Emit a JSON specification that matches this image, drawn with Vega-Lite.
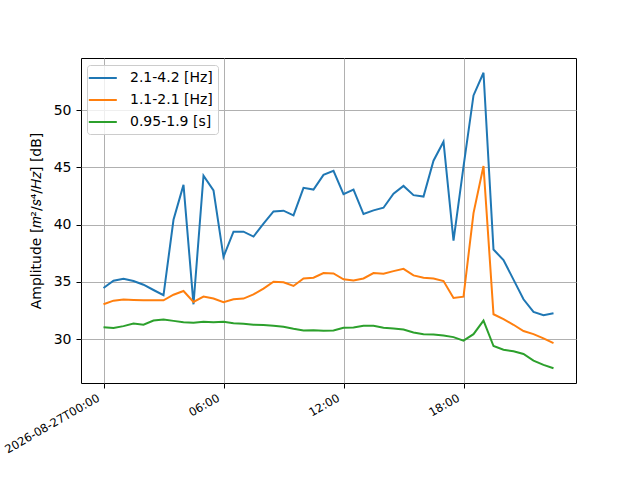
{
  "$schema": "https://vega.github.io/schema/vega-lite/v6.json",
  "autosize": {"type": "none"},
  "padding": {"left": 81, "top": 58, "right": 64, "bottom": 97},
  "width": 495,
  "height": 325,
  "background": "white",
  "data": {
    "values": [
      {"time": "2026-08-27T00:00", "band": "2.1-4.2 [Hz]", "db": 34.46},
      {"time": "2026-08-27T00:30", "band": "2.1-4.2 [Hz]", "db": 35.1},
      {"time": "2026-08-27T01:00", "band": "2.1-4.2 [Hz]", "db": 35.28},
      {"time": "2026-08-27T01:30", "band": "2.1-4.2 [Hz]", "db": 35.07},
      {"time": "2026-08-27T02:00", "band": "2.1-4.2 [Hz]", "db": 34.75},
      {"time": "2026-08-27T02:30", "band": "2.1-4.2 [Hz]", "db": 34.29},
      {"time": "2026-08-27T03:00", "band": "2.1-4.2 [Hz]", "db": 33.83},
      {"time": "2026-08-27T03:30", "band": "2.1-4.2 [Hz]", "db": 40.43},
      {"time": "2026-08-27T04:00", "band": "2.1-4.2 [Hz]", "db": 43.48},
      {"time": "2026-08-27T04:30", "band": "2.1-4.2 [Hz]", "db": 33.04},
      {"time": "2026-08-27T05:00", "band": "2.1-4.2 [Hz]", "db": 44.29},
      {"time": "2026-08-27T05:30", "band": "2.1-4.2 [Hz]", "db": 42.99},
      {"time": "2026-08-27T06:00", "band": "2.1-4.2 [Hz]", "db": 37.19},
      {"time": "2026-08-27T06:30", "band": "2.1-4.2 [Hz]", "db": 39.39},
      {"time": "2026-08-27T07:00", "band": "2.1-4.2 [Hz]", "db": 39.39},
      {"time": "2026-08-27T07:30", "band": "2.1-4.2 [Hz]", "db": 38.96},
      {"time": "2026-08-27T08:00", "band": "2.1-4.2 [Hz]", "db": 40.09},
      {"time": "2026-08-27T08:30", "band": "2.1-4.2 [Hz]", "db": 41.16},
      {"time": "2026-08-27T09:00", "band": "2.1-4.2 [Hz]", "db": 41.22},
      {"time": "2026-08-27T09:30", "band": "2.1-4.2 [Hz]", "db": 40.81},
      {"time": "2026-08-27T10:00", "band": "2.1-4.2 [Hz]", "db": 43.22},
      {"time": "2026-08-27T10:30", "band": "2.1-4.2 [Hz]", "db": 43.07},
      {"time": "2026-08-27T11:00", "band": "2.1-4.2 [Hz]", "db": 44.35},
      {"time": "2026-08-27T11:30", "band": "2.1-4.2 [Hz]", "db": 44.7},
      {"time": "2026-08-27T12:00", "band": "2.1-4.2 [Hz]", "db": 42.67},
      {"time": "2026-08-27T12:30", "band": "2.1-4.2 [Hz]", "db": 43.07},
      {"time": "2026-08-27T13:00", "band": "2.1-4.2 [Hz]", "db": 40.93},
      {"time": "2026-08-27T13:30", "band": "2.1-4.2 [Hz]", "db": 41.25},
      {"time": "2026-08-27T14:00", "band": "2.1-4.2 [Hz]", "db": 41.48},
      {"time": "2026-08-27T14:30", "band": "2.1-4.2 [Hz]", "db": 42.7},
      {"time": "2026-08-27T15:00", "band": "2.1-4.2 [Hz]", "db": 43.39},
      {"time": "2026-08-27T15:30", "band": "2.1-4.2 [Hz]", "db": 42.58},
      {"time": "2026-08-27T16:00", "band": "2.1-4.2 [Hz]", "db": 42.46},
      {"time": "2026-08-27T16:30", "band": "2.1-4.2 [Hz]", "db": 45.59},
      {"time": "2026-08-27T17:00", "band": "2.1-4.2 [Hz]", "db": 47.25},
      {"time": "2026-08-27T17:30", "band": "2.1-4.2 [Hz]", "db": 38.61},
      {"time": "2026-08-27T18:00", "band": "2.1-4.2 [Hz]", "db": 45.07},
      {"time": "2026-08-27T18:30", "band": "2.1-4.2 [Hz]", "db": 51.3},
      {"time": "2026-08-27T19:00", "band": "2.1-4.2 [Hz]", "db": 53.28},
      {"time": "2026-08-27T19:30", "band": "2.1-4.2 [Hz]", "db": 37.83},
      {"time": "2026-08-27T20:00", "band": "2.1-4.2 [Hz]", "db": 36.9},
      {"time": "2026-08-27T20:30", "band": "2.1-4.2 [Hz]", "db": 35.2},
      {"time": "2026-08-27T21:00", "band": "2.1-4.2 [Hz]", "db": 33.48},
      {"time": "2026-08-27T21:30", "band": "2.1-4.2 [Hz]", "db": 32.38},
      {"time": "2026-08-27T22:00", "band": "2.1-4.2 [Hz]", "db": 32.09},
      {"time": "2026-08-27T22:30", "band": "2.1-4.2 [Hz]", "db": 32.26},
      {"time": "2026-08-27T00:00", "band": "1.1-2.1 [Hz]", "db": 33.04},
      {"time": "2026-08-27T00:30", "band": "1.1-2.1 [Hz]", "db": 33.36},
      {"time": "2026-08-27T01:00", "band": "1.1-2.1 [Hz]", "db": 33.45},
      {"time": "2026-08-27T01:30", "band": "1.1-2.1 [Hz]", "db": 33.42},
      {"time": "2026-08-27T02:00", "band": "1.1-2.1 [Hz]", "db": 33.39},
      {"time": "2026-08-27T02:30", "band": "1.1-2.1 [Hz]", "db": 33.39},
      {"time": "2026-08-27T03:00", "band": "1.1-2.1 [Hz]", "db": 33.39},
      {"time": "2026-08-27T03:30", "band": "1.1-2.1 [Hz]", "db": 33.88},
      {"time": "2026-08-27T04:00", "band": "1.1-2.1 [Hz]", "db": 34.2},
      {"time": "2026-08-27T04:30", "band": "1.1-2.1 [Hz]", "db": 33.25},
      {"time": "2026-08-27T05:00", "band": "1.1-2.1 [Hz]", "db": 33.71},
      {"time": "2026-08-27T05:30", "band": "1.1-2.1 [Hz]", "db": 33.54},
      {"time": "2026-08-27T06:00", "band": "1.1-2.1 [Hz]", "db": 33.22},
      {"time": "2026-08-27T06:30", "band": "1.1-2.1 [Hz]", "db": 33.48},
      {"time": "2026-08-27T07:00", "band": "1.1-2.1 [Hz]", "db": 33.54},
      {"time": "2026-08-27T07:30", "band": "1.1-2.1 [Hz]", "db": 33.91},
      {"time": "2026-08-27T08:00", "band": "1.1-2.1 [Hz]", "db": 34.41},
      {"time": "2026-08-27T08:30", "band": "1.1-2.1 [Hz]", "db": 35.01},
      {"time": "2026-08-27T09:00", "band": "1.1-2.1 [Hz]", "db": 34.96},
      {"time": "2026-08-27T09:30", "band": "1.1-2.1 [Hz]", "db": 34.64},
      {"time": "2026-08-27T10:00", "band": "1.1-2.1 [Hz]", "db": 35.3},
      {"time": "2026-08-27T10:30", "band": "1.1-2.1 [Hz]", "db": 35.36},
      {"time": "2026-08-27T11:00", "band": "1.1-2.1 [Hz]", "db": 35.77},
      {"time": "2026-08-27T11:30", "band": "1.1-2.1 [Hz]", "db": 35.74},
      {"time": "2026-08-27T12:00", "band": "1.1-2.1 [Hz]", "db": 35.22},
      {"time": "2026-08-27T12:30", "band": "1.1-2.1 [Hz]", "db": 35.13},
      {"time": "2026-08-27T13:00", "band": "1.1-2.1 [Hz]", "db": 35.3},
      {"time": "2026-08-27T13:30", "band": "1.1-2.1 [Hz]", "db": 35.77},
      {"time": "2026-08-27T14:00", "band": "1.1-2.1 [Hz]", "db": 35.71},
      {"time": "2026-08-27T14:30", "band": "1.1-2.1 [Hz]", "db": 35.94},
      {"time": "2026-08-27T15:00", "band": "1.1-2.1 [Hz]", "db": 36.14},
      {"time": "2026-08-27T15:30", "band": "1.1-2.1 [Hz]", "db": 35.57},
      {"time": "2026-08-27T16:00", "band": "1.1-2.1 [Hz]", "db": 35.36},
      {"time": "2026-08-27T16:30", "band": "1.1-2.1 [Hz]", "db": 35.3},
      {"time": "2026-08-27T17:00", "band": "1.1-2.1 [Hz]", "db": 35.07},
      {"time": "2026-08-27T17:30", "band": "1.1-2.1 [Hz]", "db": 33.59},
      {"time": "2026-08-27T18:00", "band": "1.1-2.1 [Hz]", "db": 33.71},
      {"time": "2026-08-27T18:30", "band": "1.1-2.1 [Hz]", "db": 41.01},
      {"time": "2026-08-27T19:00", "band": "1.1-2.1 [Hz]", "db": 45.13},
      {"time": "2026-08-27T19:30", "band": "1.1-2.1 [Hz]", "db": 32.17},
      {"time": "2026-08-27T20:00", "band": "1.1-2.1 [Hz]", "db": 31.74},
      {"time": "2026-08-27T20:30", "band": "1.1-2.1 [Hz]", "db": 31.25},
      {"time": "2026-08-27T21:00", "band": "1.1-2.1 [Hz]", "db": 30.7},
      {"time": "2026-08-27T21:30", "band": "1.1-2.1 [Hz]", "db": 30.43},
      {"time": "2026-08-27T22:00", "band": "1.1-2.1 [Hz]", "db": 30.06},
      {"time": "2026-08-27T22:30", "band": "1.1-2.1 [Hz]", "db": 29.65},
      {"time": "2026-08-27T00:00", "band": "0.95-1.9 [s]", "db": 31.04},
      {"time": "2026-08-27T00:30", "band": "0.95-1.9 [s]", "db": 30.96},
      {"time": "2026-08-27T01:00", "band": "0.95-1.9 [s]", "db": 31.13},
      {"time": "2026-08-27T01:30", "band": "0.95-1.9 [s]", "db": 31.36},
      {"time": "2026-08-27T02:00", "band": "0.95-1.9 [s]", "db": 31.25},
      {"time": "2026-08-27T02:30", "band": "0.95-1.9 [s]", "db": 31.62},
      {"time": "2026-08-27T03:00", "band": "0.95-1.9 [s]", "db": 31.71},
      {"time": "2026-08-27T03:30", "band": "0.95-1.9 [s]", "db": 31.59},
      {"time": "2026-08-27T04:00", "band": "0.95-1.9 [s]", "db": 31.48},
      {"time": "2026-08-27T04:30", "band": "0.95-1.9 [s]", "db": 31.42},
      {"time": "2026-08-27T05:00", "band": "0.95-1.9 [s]", "db": 31.51},
      {"time": "2026-08-27T05:30", "band": "0.95-1.9 [s]", "db": 31.48},
      {"time": "2026-08-27T06:00", "band": "0.95-1.9 [s]", "db": 31.51},
      {"time": "2026-08-27T06:30", "band": "0.95-1.9 [s]", "db": 31.39},
      {"time": "2026-08-27T07:00", "band": "0.95-1.9 [s]", "db": 31.33},
      {"time": "2026-08-27T07:30", "band": "0.95-1.9 [s]", "db": 31.25},
      {"time": "2026-08-27T08:00", "band": "0.95-1.9 [s]", "db": 31.22},
      {"time": "2026-08-27T08:30", "band": "0.95-1.9 [s]", "db": 31.16},
      {"time": "2026-08-27T09:00", "band": "0.95-1.9 [s]", "db": 31.07},
      {"time": "2026-08-27T09:30", "band": "0.95-1.9 [s]", "db": 30.9},
      {"time": "2026-08-27T10:00", "band": "0.95-1.9 [s]", "db": 30.75},
      {"time": "2026-08-27T10:30", "band": "0.95-1.9 [s]", "db": 30.78},
      {"time": "2026-08-27T11:00", "band": "0.95-1.9 [s]", "db": 30.72},
      {"time": "2026-08-27T11:30", "band": "0.95-1.9 [s]", "db": 30.75},
      {"time": "2026-08-27T12:00", "band": "0.95-1.9 [s]", "db": 30.99},
      {"time": "2026-08-27T12:30", "band": "0.95-1.9 [s]", "db": 31.01},
      {"time": "2026-08-27T13:00", "band": "0.95-1.9 [s]", "db": 31.16},
      {"time": "2026-08-27T13:30", "band": "0.95-1.9 [s]", "db": 31.16},
      {"time": "2026-08-27T14:00", "band": "0.95-1.9 [s]", "db": 30.99},
      {"time": "2026-08-27T14:30", "band": "0.95-1.9 [s]", "db": 30.93},
      {"time": "2026-08-27T15:00", "band": "0.95-1.9 [s]", "db": 30.84},
      {"time": "2026-08-27T15:30", "band": "0.95-1.9 [s]", "db": 30.58},
      {"time": "2026-08-27T16:00", "band": "0.95-1.9 [s]", "db": 30.43},
      {"time": "2026-08-27T16:30", "band": "0.95-1.9 [s]", "db": 30.41},
      {"time": "2026-08-27T17:00", "band": "0.95-1.9 [s]", "db": 30.32},
      {"time": "2026-08-27T17:30", "band": "0.95-1.9 [s]", "db": 30.17},
      {"time": "2026-08-27T18:00", "band": "0.95-1.9 [s]", "db": 29.86},
      {"time": "2026-08-27T18:30", "band": "0.95-1.9 [s]", "db": 30.43},
      {"time": "2026-08-27T19:00", "band": "0.95-1.9 [s]", "db": 31.62},
      {"time": "2026-08-27T19:30", "band": "0.95-1.9 [s]", "db": 29.39},
      {"time": "2026-08-27T20:00", "band": "0.95-1.9 [s]", "db": 29.07},
      {"time": "2026-08-27T20:30", "band": "0.95-1.9 [s]", "db": 28.93},
      {"time": "2026-08-27T21:00", "band": "0.95-1.9 [s]", "db": 28.7},
      {"time": "2026-08-27T21:30", "band": "0.95-1.9 [s]", "db": 28.12},
      {"time": "2026-08-27T22:00", "band": "0.95-1.9 [s]", "db": 27.74},
      {"time": "2026-08-27T22:30", "band": "0.95-1.9 [s]", "db": 27.45}
    ]
  },
  "mark": {"type": "line", "strokeWidth": 2, "clip": true},
  "encoding": {
    "x": {
      "field": "time",
      "type": "temporal",
      "scale": {
        "domain": [
          {"year": 2026, "month": 8, "date": 26, "hours": 22, "minutes": 52, "seconds": 30},
          {"year": 2026, "month": 8, "date": 27, "hours": 23, "minutes": 37, "seconds": 30}
        ],
        "nice": false
      },
      "axis": {
        "title": null,
        "values": [
          {"year": 2026, "month": 8, "date": 27, "hours": 0},
          {"year": 2026, "month": 8, "date": 27, "hours": 6},
          {"year": 2026, "month": 8, "date": 27, "hours": 12},
          {"year": 2026, "month": 8, "date": 27, "hours": 18}
        ],
        "labelExpr": "hours(datum.value) == 0 ? timeFormat(datum.value, '%Y-%m-%dT%H:%M') : timeFormat(datum.value, '%H:%M')",
        "labelAngle": -30,
        "labelAlign": "right",
        "labelBaseline": "top",
        "labelFontSize": 11.5,
        "labelPadding": 4,
        "labelOffset": -8,
        "labelOverlap": false,
        "labelFlush": false
      }
    },
    "y": {
      "field": "db",
      "type": "quantitative",
      "scale": {"domain": [26.16, 54.57], "nice": false, "zero": false},
      "axis": {
        "title": "Amplitude [𝑚²/𝑠⁴/𝐻𝑧] [dB]",
        "values": [30, 35, 40, 45, 50],
        "labelFontSize": 14,
        "labelPadding": 5,
        "titleFontSize": 14,
        "titlePadding": 10
      }
    },
    "color": {
      "field": "band",
      "type": "nominal",
      "scale": {
        "domain": ["2.1-4.2 [Hz]", "1.1-2.1 [Hz]", "0.95-1.9 [s]"],
        "range": ["#1f77b4", "#ff7f0e", "#2ca02c"]
      },
      "legend": {
        "title": null,
        "orient": "none",
        "legendX": 6,
        "legendY": 7,
        "symbolType": "M-1.6,0H2.4",
        "symbolSize": 196,
        "symbolStrokeWidth": 2,
        "labelFontSize": 14,
        "labelOffset": 22,
        "rowPadding": 7,
        "padding": 5,
        "fillColor": "rgba(255,255,255,0.8)",
        "strokeColor": "#cccccc",
        "cornerRadius": 3
      }
    },
    "order": {"field": "time", "type": "temporal"}
  },
  "config": {
    "font": "DejaVu Sans",
    "view": {"stroke": "black", "strokeWidth": 1},
    "axis": {
      "domain": false,
      "grid": true,
      "gridColor": "#b0b0b0",
      "gridWidth": 1,
      "tickColor": "black",
      "tickSize": 5,
      "tickWidth": 1,
      "labelColor": "black",
      "titleColor": "black",
      "titleFontWeight": "normal",
      "labelFont": "DejaVu Sans",
      "titleFont": "DejaVu Sans"
    },
    "legend": {
      "labelColor": "black",
      "labelFont": "DejaVu Sans"
    }
  }
}
